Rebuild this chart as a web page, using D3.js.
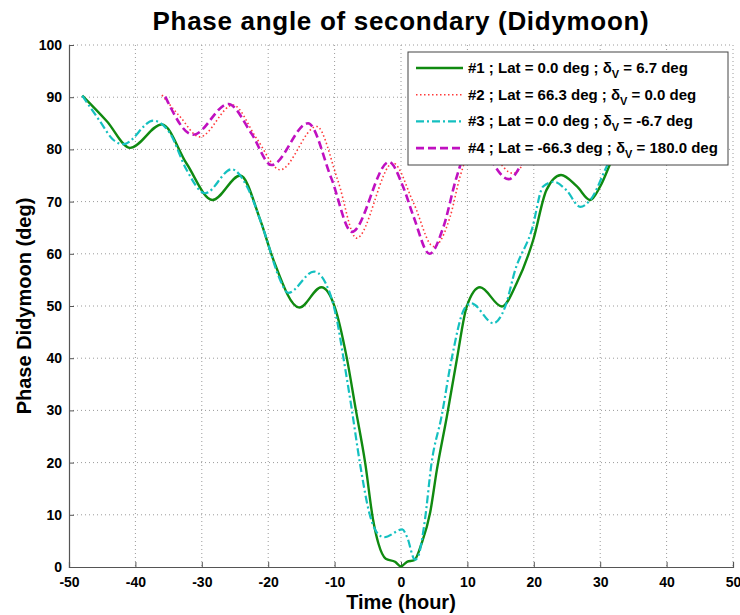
<!DOCTYPE html>
<html>
<head>
<meta charset="utf-8">
<script src="https://cdn.jsdelivr.net/npm/d3@7"></script>
<style>
  html, body { margin: 0; padding: 0; background: #fff; }
  svg { display: block; font-family: "Liberation Sans", Arial, Helvetica, sans-serif; }
</style>
</head>
<body>
<svg id="chart" width="740" height="615"></svg>
<script>
// Phase angle (deg) of Didymoon versus time (hours) for four observing geometries.
const time1 = [-48, -44.3, -40.8, -36.0, -32.3, -28.4, -24.2, -21.2, -19.2, -15.3, -12.0, -10.0, -8.2, -6.8, -5.4, -4.2, -3.4, -2.3, -0.9, 0, 0.9, 2.0, 3.1, 4.4, 5.4, 6.9, 8.4, 9.9, 11.9, 15.2, 17.4, 19.9, 21.9, 24.1, 26.5, 28.5, 30.0, 32.0, 36.0, 40.8, 44.3, 48];
const phase1 = [90.3, 85.4, 80.3, 84.8, 77.3, 70.3, 75.0, 66.5, 58.8, 49.7, 53.6, 49.9, 40.3, 30.1, 20.0, 9.0, 4.5, 1.6, 1.0, 0.1, 1.0, 1.3, 4.5, 10.5, 18.6, 28.8, 39.7, 49.9, 53.6, 49.9, 54.3, 62.6, 72.2, 75.1, 72.9, 70.3, 72.9, 78.6, 84.8, 80.3, 85.4, 90.3];

const time2 = [-36.0, -33.3, -30.3, -25.3, -21.7, -18.2, -12.7, -9.5, -6.7, -1.2, 1.9, 4.9, 7.4, 8.9, 11.5, 16.9, 22.5, 28.0, 33.0, 36.0];
const phase2 = [90.4, 86.3, 82.4, 88.5, 82.0, 76.1, 84.4, 74.0, 63.0, 77.4, 69.7, 61.4, 67.1, 74.8, 82.0, 75.4, 86.0, 79.0, 87.0, 90.0];

const time3 = [-48, -45.4, -43.3, -41.8, -37.3, -34.8, -32.3, -29.5, -25.5, -23.2, -20.7, -18.2, -17.0, -13.1, -10.7, -9.6, -8.7, -7.4, -6.2, -4.7, -3.2, -2.5, 0.2, 0.9, 2.1, 2.6, 3.6, 4.6, 6.1, 7.6, 9.6, 10.6, 13.9, 15.7, 17.2, 19.7, 21.4, 23.0, 24.9, 27.0, 28.5, 31.5, 35.0, 39.0, 43.0, 48];
const phase3 = [90.3, 85.5, 81.8, 81.0, 85.5, 83.1, 76.1, 71.6, 76.2, 72.9, 64.6, 55.0, 52.5, 56.6, 52.4, 47.0, 40.3, 30.1, 20.0, 10.0, 6.0, 5.7, 7.2, 5.8, 1.4, 2.1, 9.0, 19.9, 28.8, 39.7, 49.6, 50.5, 46.7, 49.9, 56.9, 64.6, 72.9, 73.8, 72.2, 69.0, 70.3, 78.0, 83.0, 79.5, 84.0, 90.3];

const time4 = [-35.5, -31.3, -26.0, -22.5, -19.5, -14.0, -10.5, -7.4, -1.8, 0.3, 1.9, 4.3, 6.4, 8.4, 10.8, 16.2, 22.0, 27.5, 33.0, 35.5];
const phase4 = [90.1, 82.8, 88.7, 83.0, 77.0, 85.0, 74.5, 64.2, 77.6, 72.9, 67.1, 60.0, 65.2, 74.8, 82.0, 74.3, 86.0, 80.0, 88.0, 90.0];

const xTicks = [-50, -40, -30, -20, -10, 0, 10, 20, 30, 40, 50];
const yTicks = [0, 10, 20, 30, 40, 50, 60, 70, 80, 90, 100];

const seriesNames = ["#1 ; Lat = 0.0 deg ; ", "#2 ; Lat = 66.3 deg ; ", "#3 ; Lat = 0.0 deg ; ", "#4 ; Lat = -66.3 deg ; "];
const seriesDelta = [" = 6.7 deg", " = 0.0 deg", " = -6.7 deg", " = 180.0 deg"];

const series = [
  { t: time1, v: phase1, color: "#108a10", width: 2.4, dash: null },
  { t: time2, v: phase2, color: "#ff3a3a", width: 1.6, dash: "1.5,2.5" },
  { t: time3, v: phase3, color: "#14c0c0", width: 2.2, dash: "8,3,2,3" },
  { t: time4, v: phase4, color: "#c010c0", width: 2.6, dash: "8,4" }
];

const svg = d3.select("#chart");
const plotLeft = 69, plotRight = 733, plotTop = 45, plotBottom = 567;

const x = d3.scaleLinear().domain([-50, 50]).range([plotLeft, plotRight]);
const y = d3.scaleLinear().domain([0, 100]).range([plotBottom, plotTop]);

// grid
const grid = svg.append("g");
grid.selectAll("line.gx").data(xTicks.slice(1)).join("line")
  .attr("x1", d => x(d)).attr("x2", d => x(d))
  .attr("y1", plotTop).attr("y2", plotBottom)
  .attr("stroke", "#9a9a9a").attr("stroke-width", 1).attr("stroke-dasharray", "1,3");
grid.selectAll("line.gy").data(yTicks.slice(1)).join("line")
  .attr("x1", plotLeft).attr("x2", plotRight)
  .attr("y1", d => y(d)).attr("y2", d => y(d))
  .attr("stroke", "#9a9a9a").attr("stroke-width", 1).attr("stroke-dasharray", "1,3");

// axes (plain hyphen for negative tick labels)
const plainNum = d => String(d);
const xAxis = svg.append("g").attr("transform", `translate(0,${plotBottom})`)
  .call(d3.axisBottom(x).tickValues(xTicks).tickSize(-5).tickPadding(10).tickFormat(plainNum));
const yAxis = svg.append("g").attr("transform", `translate(${plotLeft},0)`)
  .call(d3.axisLeft(y).tickValues(yTicks).tickSize(-5).tickPadding(7).tickFormat(plainNum));
[xAxis, yAxis].forEach(a => {
  a.select(".domain").attr("stroke", "#555").attr("stroke-width", 1.2);
  a.selectAll(".tick line").attr("stroke", "#555");
  a.selectAll(".tick text").attr("fill", "#000").style("font-size", "14px").style("font-weight", "bold")
    .style("font-family", "'Liberation Sans', Arial, sans-serif");
});

// curves
const line = d3.line().x(d => x(d[0])).y(d => y(d[1])).curve(d3.curveMonotoneX);
series.forEach(s => {
  const pts = s.t.map((t, i) => [t, s.v[i]]);
  svg.append("path").datum(pts)
    .attr("d", line)
    .attr("fill", "none")
    .attr("stroke", s.color)
    .attr("stroke-width", s.width)
    .attr("stroke-dasharray", s.dash)
    .attr("stroke-linejoin", "round");
});

// legend
const lg = svg.append("g");
lg.append("rect").attr("x", 408).attr("y", 52).attr("width", 320).attr("height", 113)
  .attr("fill", "#fff").attr("stroke", "#444").attr("stroke-width", 1);
series.forEach((s, i) => {
  const yy = 68 + i * 26.7;
  lg.append("line").attr("x1", 416).attr("x2", 463).attr("y1", yy).attr("y2", yy)
    .attr("stroke", s.color).attr("stroke-width", s.width).attr("stroke-dasharray", s.dash);
  const tx = lg.append("text").attr("x", 468).attr("y", yy + 5)
    .style("font-size", "15px").style("font-weight", "bold").attr("fill", "#000");
  tx.append("tspan").text(seriesNames[i] + "δ");
  tx.append("tspan").attr("dy", 5).style("font-size", "11px").text("V");
  tx.append("tspan").attr("dy", -5).text(seriesDelta[i]);
});

// title and axis labels
svg.append("text").attr("x", x(0)).attr("y", 30).attr("text-anchor", "middle")
  .style("font-size", "26px").style("font-weight", "bold").style("letter-spacing", "0.7px")
  .text("Phase angle of secondary (Didymoon)");
svg.append("text").attr("x", x(0)).attr("y", 609).attr("text-anchor", "middle")
  .style("font-size", "20px").style("font-weight", "bold").text("Time (hour)");
svg.append("text").attr("transform", `translate(31,${y(50)}) rotate(-90)`).attr("text-anchor", "middle")
  .style("font-size", "20px").style("font-weight", "bold").text("Phase Didymoon (deg)");
</script>
</body>
</html>
